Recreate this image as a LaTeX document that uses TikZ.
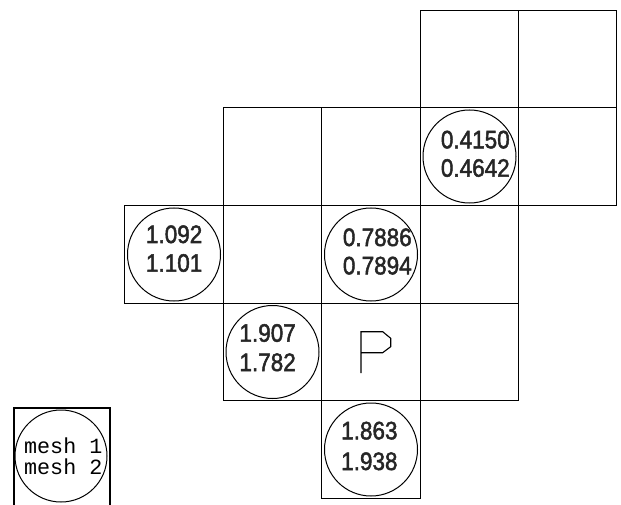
\documentclass[tikz,border=0pt]{standalone}
\usepackage{fontspec}
\setmainfont{Liberation Sans}
\newfontfamily\valfont[FakeBold=2]{Liberation Sans}
\newfontfamily\legendfont{Liberation Mono}
\newcommand\tallval[1]{\scalebox{1}[1.12]{#1}}
\begin{document}
\begin{tikzpicture}[x=1pt,y=-1pt,
  gridline/.style={draw=black,line width=1.8pt},
  ring/.style={draw=black,line width=1pt,circle,inner sep=0pt,minimum size=93pt},
  val/.style={anchor=base west,inner sep=0pt,text=black!85,
    font=\valfont\fontsize{22.5pt}{26pt}\selectfont},
  leg/.style={anchor=base west,inner sep=0pt,text=black,
    font=\legendfont\fontsize{21.7pt}{24pt}\selectfont},
  pline/.style={line width=1.1pt,line join=miter}]
\useasboundingbox (0,0) rectangle (621,505);
\def\colx{{124.5,223.5,321.5,420.5,518.5,616.5}}
\def\rowy{{10.5,107.5,205.5,303.5,400.5,498.5}}
% grid cells (column, row)
\foreach \c/\r in {3/0,4/0,1/1,2/1,3/1,4/1,0/2,1/2,2/2,3/2,1/3,2/3,3/3,2/4}{
  \pgfmathsetmacro\xa{\colx[\c]}
  \pgfmathsetmacro\xb{\colx[\c+1]}
  \pgfmathsetmacro\ya{\rowy[\r]}
  \pgfmathsetmacro\yb{\rowy[\r+1]}
  \draw[gridline] (\xa,\ya) rectangle (\xb,\yb);
  \coordinate (cell\c\r) at ({(\xa+\xb)/2},{(\ya+\yb)/2});
}
% circles
\foreach \c/\r in {3/1,0/2,2/2,1/3,2/4}{
  \node[ring] (ring\c\r) at (cell\c\r) {};
}
% values
\node[val] (v31a) at (440.7,148.3) {\tallval{0.4150}};
\node[val] (v31b) at (440.7,176.7) {\tallval{0.4642}};
\node[val] (v02a) at (145.8,243) {\tallval{1.092}};
\node[val] (v02b) at (145.8,271.7) {\tallval{1.101}};
\node[val] (v22a) at (342.7,246) {\tallval{0.7886}};
\node[val] (v22b) at (342.7,274.3) {\tallval{0.7894}};
\node[val] (v13a) at (239.3,341.7) {\tallval{1.907}};
\node[val] (v13b) at (239.3,371) {\tallval{1.782}};
\node[val] (v24a) at (341,439.3) {\tallval{1.863}};
\node[val] (v24b) at (341,470) {\tallval{1.938}};
% P marker
\draw[pline] (361,373)--(361,331.7)--(382.7,331.7)--(390.7,338.3)--(390.7,346.7)--(382.7,352.7)--(361,352.7);
% legend
\coordinate (lgA) at (14,505);
\coordinate (lgB) at (14,408);
\coordinate (lgC) at (110,408);
\coordinate (lgD) at (110,505);
\draw[gridline] (lgA)--(lgB)--(lgC)--(lgD);
\node[ring,minimum size=92pt] (legring) at (61,456) {};
\node[leg] (leg1) at (24,453) {mesh 1};
\node[leg] (leg2) at (24,474) {mesh 2};
\end{tikzpicture}
\end{document}
